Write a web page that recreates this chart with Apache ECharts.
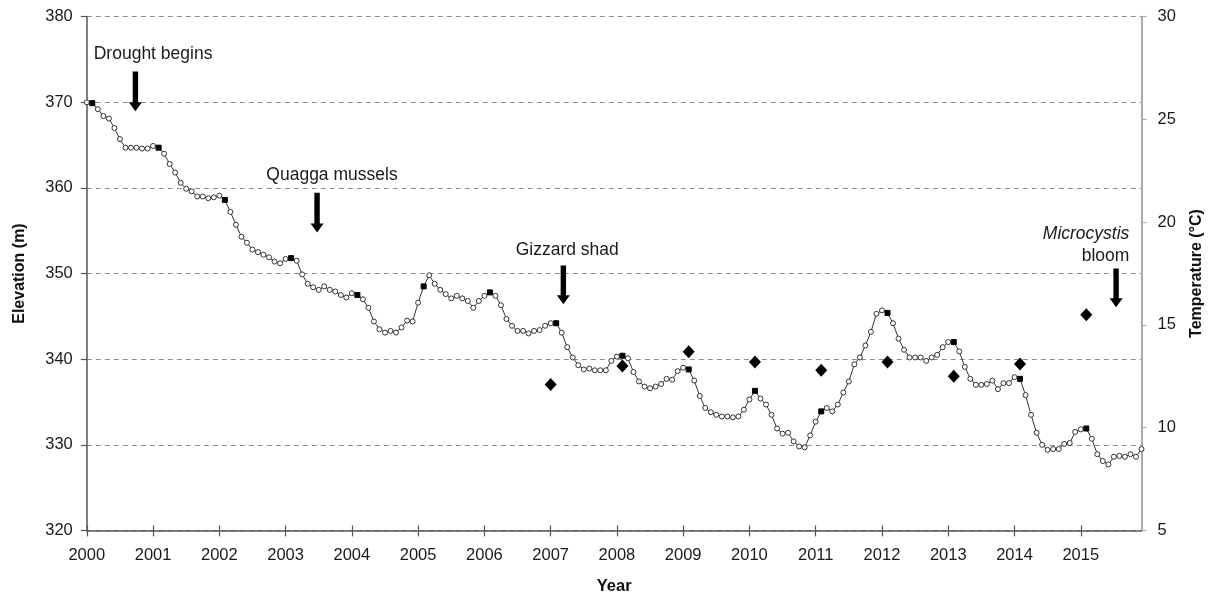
<!DOCTYPE html>
<html>
<head>
<meta charset="utf-8">
<script src="https://cdn.jsdelivr.net/npm/echarts@6/dist/echarts.min.js"></script>
<style>
html,body{margin:0;padding:0;background:#fff;}
#chart{width:1214px;height:597px;}
</style>
</head>
<body>
<div id="chart"></div>
<script>
// ---- Data ----
const startYear = 2000;
const endYear = 2015;
// Monthly lake elevation (m), Jan 2000 .. Dec 2015
const elevation = [
  370.0, 369.9, 369.2, 368.4, 368.1, 367.0, 365.7, 364.7, 364.7, 364.7, 364.6, 364.6,
  364.9, 364.7, 364.0, 362.8, 361.8, 360.6, 359.9, 359.6, 359.0, 359.0, 358.8, 358.9,
  359.1, 358.6, 357.2, 355.7, 354.3, 353.6, 352.8, 352.5, 352.2, 351.9, 351.4, 351.2,
  351.7, 351.8, 351.5, 349.9, 348.8, 348.4, 348.1, 348.5, 348.1, 347.9, 347.5, 347.2,
  347.7, 347.5, 347.0, 346.0, 344.4, 343.5, 343.1, 343.3, 343.1, 343.7, 344.5, 344.4,
  346.6, 348.5, 349.8, 348.8, 348.1, 347.6, 347.1, 347.4, 347.1, 346.8, 346.0, 346.8,
  347.4, 347.8, 347.4, 346.3, 344.7, 343.9, 343.3, 343.3, 343.0, 343.3, 343.4, 343.9,
  344.2, 344.2, 343.1, 341.4, 340.2, 339.3, 338.8, 338.9, 338.7, 338.7, 338.7, 339.8,
  340.3, 340.4, 340.1, 338.5, 337.4, 336.8, 336.6, 336.8, 337.1, 337.7, 337.6, 338.6,
  339.0, 338.8, 337.5, 335.7, 334.3, 333.8, 333.5, 333.3, 333.3, 333.2, 333.3, 334.1,
  335.3, 336.3, 335.4, 334.7, 333.5, 331.9, 331.3, 331.4, 330.4, 329.8, 329.7, 331.1,
  332.7, 333.9, 334.3, 333.9, 334.7, 336.1, 337.4, 339.4, 340.2, 341.6, 343.2, 345.3,
  345.7, 345.4, 344.2, 342.4, 341.1, 340.2, 340.2, 340.2, 339.8, 340.2, 340.5, 341.4,
  342.0, 342.0, 340.9, 339.1, 337.7, 337.0, 337.0, 337.1, 337.5, 336.5, 337.2, 337.2,
  337.9, 337.7, 335.8, 333.5, 331.4, 330.0, 329.4, 329.5, 329.5, 330.1, 330.2, 331.5,
  331.8, 331.9, 330.7, 328.9, 328.1, 327.7, 328.6, 328.7, 328.6, 328.9, 328.6, 329.5
];
// Temperature (°C) samples: month index and value
const tempMonthIndex = [84, 97, 109, 121, 133, 145, 157, 169, 181];
const tempValues = [12.1, 13.0, 13.7, 13.2, 12.8, 13.2, 12.5, 13.1, 15.5];
// Annotations (data coordinates: month index, elevation)
const annotations = [
  {lines: [{t: 'Drought begins'}], textIdx: 12.0, textY: 375.6, arrowIdx: 8.8, arrowTop: 373.6, arrowBottom: 368.95, align: 'center'},
  {lines: [{t: 'Quagga mussels'}], textIdx: 44.4, textY: 361.45, arrowIdx: 41.7, arrowTop: 359.45, arrowBottom: 354.8, align: 'center'},
  {lines: [{t: 'Gizzard shad'}], textIdx: 87.0, textY: 352.7, arrowIdx: 86.3, arrowTop: 350.93, arrowBottom: 346.4, align: 'center'},
  {lines: [{t: 'Microcystis', italic: true, y: 354.55}, {t: 'bloom', y: 352.0}], textIdx: 188.8, arrowIdx: 186.4, arrowTop: 350.6, arrowBottom: 346.05, align: 'right'}
];

// ---- Build ----
const categories = [];
for (let y = startYear; y <= endYear; y++) {
  for (let m = 1; m <= 12; m++) categories.push(y + '-' + (m < 10 ? '0' + m : m));
}
const FONT = '"Liberation Sans", Arial, sans-serif';
const lineData = elevation.map((v, i) => (i % 12 === 1)
  ? {value: v, symbol: 'rect', symbolSize: 5, itemStyle: {color: '#000', borderColor: '#000'}}
  : v);
const tempData = tempMonthIndex.map((idx, k) => [idx, tempValues[k]]);
const yearTick = (i) => i % 12 === 0;

const chart = echarts.init(document.getElementById('chart'), null, {renderer: 'canvas'});
const option = {
  animation: false,
  backgroundColor: '#fff',
  textStyle: {fontFamily: FONT},
  grid: {left: 86.8, right: 72.5, top: 16.7, bottom: 66.6, containLabel: false, outerBoundsMode: 'none'},
  xAxis: [{
    type: 'category',
    data: categories,
    boundaryGap: false,
    name: 'Year',
    nameLocation: 'middle',
    nameGap: 48,
    nameTextStyle: {fontFamily: FONT, fontWeight: 'bold', fontSize: 16.5, color: '#111'},
    axisLine: {lineStyle: {color: '#555', width: 1.5}},
    axisTick: {show: true, interval: yearTick, inside: false, length: 6, lineStyle: {color: '#555', width: 1.2}},
    axisLabel: {interval: yearTick, formatter: (v) => v.slice(0, 4), fontFamily: FONT, fontSize: 16.5, color: '#1a1a1a', margin: 17},
    splitLine: {show: false}
  }, {
    type: 'category',
    data: categories,
    boundaryGap: false,
    position: 'bottom',
    gridIndex: 0,
    axisLine: {show: false},
    axisTick: {show: true, interval: yearTick, inside: true, length: 5, lineStyle: {color: '#555', width: 1.2}},
    axisLabel: {show: false},
    splitLine: {show: false}
  }],
  yAxis: [{
    type: 'value',
    min: 320, max: 380, interval: 10,
    position: 'left',
    name: 'Elevation (m)',
    nameLocation: 'middle',
    nameRotate: 90,
    nameGap: 59,
    nameTextStyle: {fontFamily: FONT, fontWeight: 'bold', fontSize: 16, color: '#111'},
    axisLine: {show: true, lineStyle: {color: '#555', width: 1.5}},
    axisTick: {show: true, inside: false, length: 6, lineStyle: {color: '#555', width: 1.2}},
    axisLabel: {fontFamily: FONT, fontSize: 16.5, color: '#1a1a1a', margin: 14},
    splitLine: {show: true, lineStyle: {color: '#8c8c8c', width: 1, type: [5, 4]}}
  }, {
    type: 'value',
    min: 5, max: 30, interval: 5,
    position: 'right',
    name: 'Temperature (°C)',
    nameLocation: 'middle',
    nameRotate: 90,
    nameGap: 47,
    nameTextStyle: {fontFamily: FONT, fontWeight: 'bold', fontSize: 16, color: '#111'},
    axisLine: {show: true, lineStyle: {color: '#aaa', width: 2}},
    axisTick: {show: true, inside: false, length: 5, lineStyle: {color: '#aaa', width: 1.2}},
    axisLabel: {fontFamily: FONT, fontSize: 16.5, color: '#1a1a1a', margin: 16},
    splitLine: {show: false}
  }],
  series: [{
    name: 'Elevation',
    type: 'line',
    xAxisIndex: 0, yAxisIndex: 0,
    data: lineData,
    symbol: 'circle',
    symbolSize: 5,
    showAllSymbol: true,
    lineStyle: {color: '#333', width: 1},
    itemStyle: {color: '#fff', borderColor: '#333', borderWidth: 1},
    z: 3
  }, {
    name: 'Temperature',
    type: 'scatter',
    xAxisIndex: 0, yAxisIndex: 1,
    data: tempData,
    symbol: 'diamond',
    symbolSize: [12, 13],
    itemStyle: {color: '#000', opacity: 1},
    z: 4
  }]
};
chart.setOption(option);

// ---- Annotations placed via the chart's own scales ----
const x0 = chart.convertToPixel({xAxisIndex: 0}, 0);
const xN = chart.convertToPixel({xAxisIndex: 0}, categories.length - 1);
const xAt = (idx) => x0 + (xN - x0) * idx / (categories.length - 1);
const yAt = (v) => chart.convertToPixel({yAxisIndex: 0}, v);

const graphics = [];
annotations.forEach((a) => {
  a.lines.forEach((ln) => {
    graphics.push({
      type: 'text',
      x: xAt(a.textIdx),
      y: yAt(ln.y !== undefined ? ln.y : a.textY),
      style: {
        text: ln.t,
        fill: '#1a1a1a',
        font: (ln.italic ? 'italic ' : '') + '17.5px ' + FONT,
        textAlign: a.align,
        textVerticalAlign: 'middle'
      },
      z: 10
    });
  });
  const ax = xAt(a.arrowIdx), top = yAt(a.arrowTop), bot = yAt(a.arrowBottom);
  const sw = 2.7, hw = 6.5, hh = 9;
  graphics.push({
    type: 'polygon',
    shape: {points: [[ax - sw, top], [ax + sw, top], [ax + sw, bot - hh], [ax + hw, bot - hh], [ax, bot], [ax - hw, bot - hh], [ax - sw, bot - hh]]},
    style: {fill: '#000'},
    z: 10
  });
});
chart.setOption({graphic: graphics});
</script>
</body>
</html>
